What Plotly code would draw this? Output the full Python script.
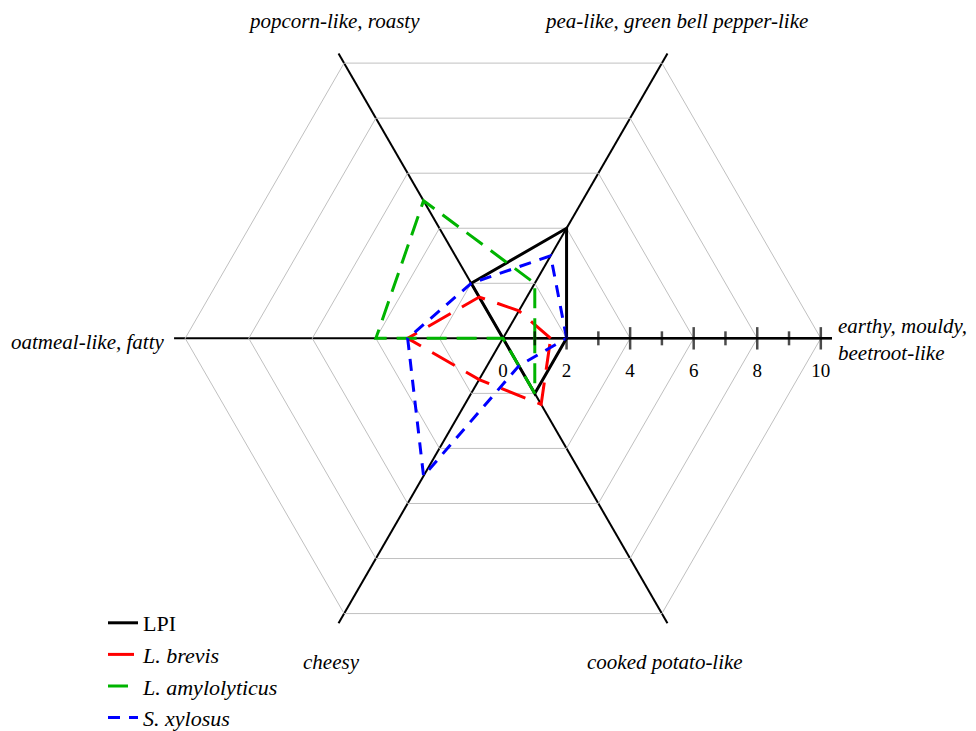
import plotly.graph_objects as go

# sensory attributes, counter-clockwise from the right-hand axis
categories = ["earthy, mouldy, beetroot-like", "pea-like, green bell pepper-like",
              "popcorn-like, roasty", "oatmeal-like, fatty", "cheesy", "cooked potato-like"]

lpi = [2, 4, 2, 0, 0, 2]
l_brevis = [1.5, 1, 1.5, 3, 1.5, 2.4]
l_amylolyticus = [1, 2, 5, 4, 0, 2]
s_xylosus = [2, 3, 2, 3, 5, 1]

radial_ticks = [0, 2, 4, 6, 8, 10]
minor_ticks = [1, 2, 3, 4, 5, 6, 7, 8, 9, 10]

W, H = 976, 731
FONT = "Liberation Serif"


def closed(vals):
    return list(vals) + [vals[0]]


def px(x, y):
    # the page body adds an 8px margin on the left
    return (x - 8) / W, 1 - y / H


fig = go.Figure()

series = [
    ("LPI", lpi, "black", "solid"),
    ("<i>L. brevis</i>", l_brevis, "#FF0000", "26px,13px"),
    ("<i>L. amylolyticus</i>", l_amylolyticus, "#00B400", "20px,10px"),
    ("<i>S. xylosus</i>", s_xylosus, "#0000FF", "12px,9px"),
]
for name, vals, color, dash in series:
    fig.add_trace(go.Scatterpolar(
        r=closed(vals), theta=closed(categories), mode="lines", name=name,
        line=dict(color=color, width=3, dash=dash), hoverinfo="skip"))

# tick marks crossing the radial axis
fig.add_trace(go.Scatterpolar(
    r=minor_ticks, theta=[categories[0]] * len(minor_ticks), mode="markers",
    marker=dict(symbol="line-ns", size=[16 if t % 2 == 0 else 10 for t in minor_ticks],
                line=dict(color="black", width=2.5)),
    showlegend=False, hoverinfo="skip"))

# centre of the polar area and pixels per unit
cx, cy, rmax, unit = 503, 343, 10.35, 33
R = rmax * unit
x0, y1 = px(cx - R, cy + R)
x1, y0 = px(cx + R, cy - R)
lx, ly = px(103, 617)
fig.update_layout(
    width=W, height=H,
    margin=dict(l=0, r=0, t=0, b=0),
    paper_bgcolor="white",
    font=dict(family=FONT, size=21, color="black"),
    polar=dict(
        domain=dict(x=[x0, x1], y=[y1, y0]),
        bgcolor="white",
        gridshape="linear",
        radialaxis=dict(
            range=[0, rmax], angle=0, tickvals=radial_ticks,
            showline=True, linecolor="black", linewidth=2.5,
            showgrid=True, gridcolor="#C0C0C0", gridwidth=1.2,
            ticks="outside", ticklen=15, tickcolor="rgba(0,0,0,0)",
            tickfont=dict(family=FONT, size=19, color="black"),
            layer="below traces"),
        angularaxis=dict(
            categoryorder="array", categoryarray=categories,
            rotation=0, direction="counterclockwise",
            showline=False, showticklabels=False, ticks="",
            showgrid=True, gridcolor="black", gridwidth=2,
            layer="below traces"),
    ),
    legend=dict(x=lx, y=ly, xanchor="left", yanchor="top",
                font=dict(family=FONT, size=22), bgcolor="rgba(0,0,0,0)",
                tracegroupgap=0),
    showlegend=True,
)

# category labels around the chart
label_pos = [
    (836, 344, "left"), (676, 14, "center"), (334, 14, "center"),
    (166, 347, "right"), (331, 679, "center"), (665, 679, "center"),
]
for cat, (x, y, anchor) in zip(categories, label_pos):
    text = cat.replace(", beetroot", ",<br>beetroot")
    ax, ay = px(x, y)
    fig.add_annotation(x=ax, y=ay, xref="paper", yref="paper", text="<i>" + text + "</i>",
                       showarrow=False, xanchor=anchor, yanchor="middle", align="left",
                       font=dict(family=FONT, size=21, color="black"))

fig.write_html("out.html")
